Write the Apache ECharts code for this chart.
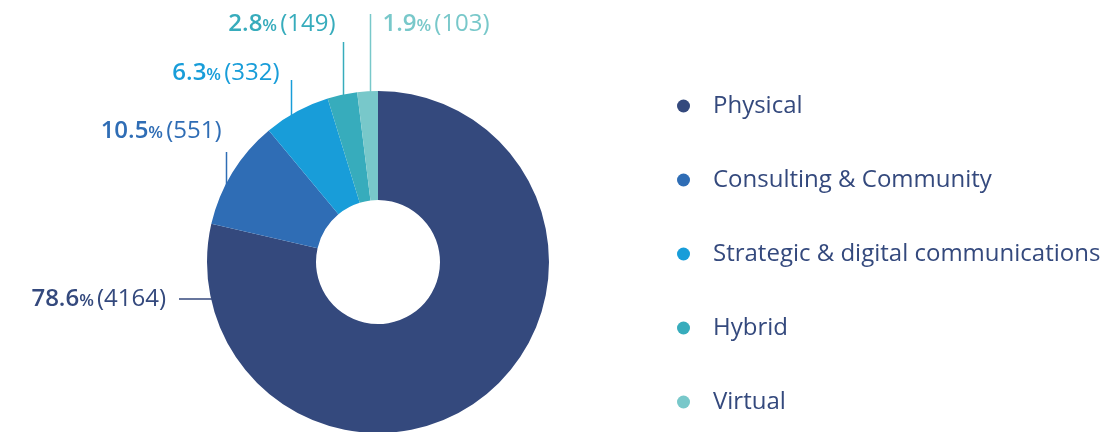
<!DOCTYPE html>
<html>
<head>
<meta charset="utf-8">
<title>Events by type</title>
<script src="https://cdn.jsdelivr.net/npm/echarts@6/dist/echarts.min.js"></script>
<style>
  html, body { margin: 0; padding: 0; background: #fff; }
  #chart { width: 1117px; height: 432px; }
</style>
</head>
<body>
<div id="chart"></div>
<script>
const categories = ['Physical', 'Consulting & Community', 'Strategic & digital communications', 'Hybrid', 'Virtual'];
const counts = [4164, 551, 332, 149, 103];
const shares = ['78.6', '10.5', '6.3', '2.8', '1.9'];

const colors = ['#34497d', '#2f6db5', '#189dd9', '#37acbc', '#78c8ca'];
const navy = '#34497d';
const font = '"Open Sans", Lato, sans-serif';
const center = [378, 262];
const radius = [62, 171];

// label y (text middle), which side of the guide the text sits, and where the guide stops
const labelSpots = [
  { y: 299, side: 'left', gap: 13, lineEnd: 179 },
  { y: 131, side: 'left', gap: 5, lineTop: 152, shift: -6 },
  { y: 73, side: 'left', gap: 12, lineTop: 80, shift: -6 },
  { y: 24, side: 'left', gap: 8, lineTop: 42, shift: 1 },
  { y: 24, side: 'right', gap: 12, lineTop: 14, shift: 2 }
];

function rimY(x) {
  const dx = x - center[0];
  return center[1] - Math.sqrt(radius[1] * radius[1] - dx * dx);
}

function placeLabel(params) {
  const i = params.dataIndex;
  const spot = labelSpots[i];
  if (i === 0) {
    // physical: short horizontal guide from the left rim
    const dy = spot.y - center[1];
    const ex = center[0] - Math.sqrt(radius[1] * radius[1] - dy * dy);
    return {
      x: spot.lineEnd - spot.gap,
      y: spot.y,
      align: 'right',
      verticalAlign: 'middle',
      labelLinePoints: [[ex + 3, spot.y], [spot.lineEnd, spot.y], [spot.lineEnd, spot.y]]
    };
  }
  const p = params.labelLinePoints[0];
  const px = Math.round(p[0] + spot.shift) + 0.5;
  return {
    x: spot.side === 'left' ? px - spot.gap : px + spot.gap,
    y: spot.y,
    align: spot.side === 'left' ? 'right' : 'left',
    verticalAlign: 'middle',
    labelLinePoints: [[px, rimY(px) + 3], [px, spot.lineTop], [px, spot.lineTop]]
  };
}

const chart = echarts.init(document.getElementById('chart'));

chart.setOption({
  animation: false,
  color: colors,
  legend: {
    orient: 'vertical',
    left: 672,
    top: 87,
    icon: 'circle',
    itemWidth: 13,
    itemHeight: 13,
    itemGap: 46,
    selectedMode: false,
    data: categories,
    textStyle: {
      fontFamily: font,
      fontSize: 24,
      lineHeight: 28,
      color: navy,
      padding: [0, 0, 0, 18]
    }
  },
  series: [
    {
      type: 'pie',
      center: center,
      radius: radius,
      startAngle: 90,
      clockwise: true,
      avoidLabelOverlap: false,
      emphasis: { disabled: true },
      label: {
        show: true,
        position: 'outside',
        fontFamily: font,
        formatter: (p) => `{v|${shares[p.dataIndex]}}{u|%} {n|(${p.value})}`,
        rich: {
          v: { fontFamily: font, fontSize: 24, fontWeight: 600 },
          u: { fontFamily: font, fontSize: 17, fontWeight: 600, padding: [4, 0, 0, 0] },
          n: { fontFamily: font, fontSize: 24, fontWeight: 400 }
        }
      },
      labelLine: {
        show: true,
        length: 10,
        length2: 10,
        lineStyle: { width: 1.5 }
      },
      labelLayout: placeLabel,
      data: categories.map((name, i) => ({
        name: name,
        value: counts[i],
        label: { color: colors[i] }
      }))
    }
  ]
});
</script>
</body>
</html>
